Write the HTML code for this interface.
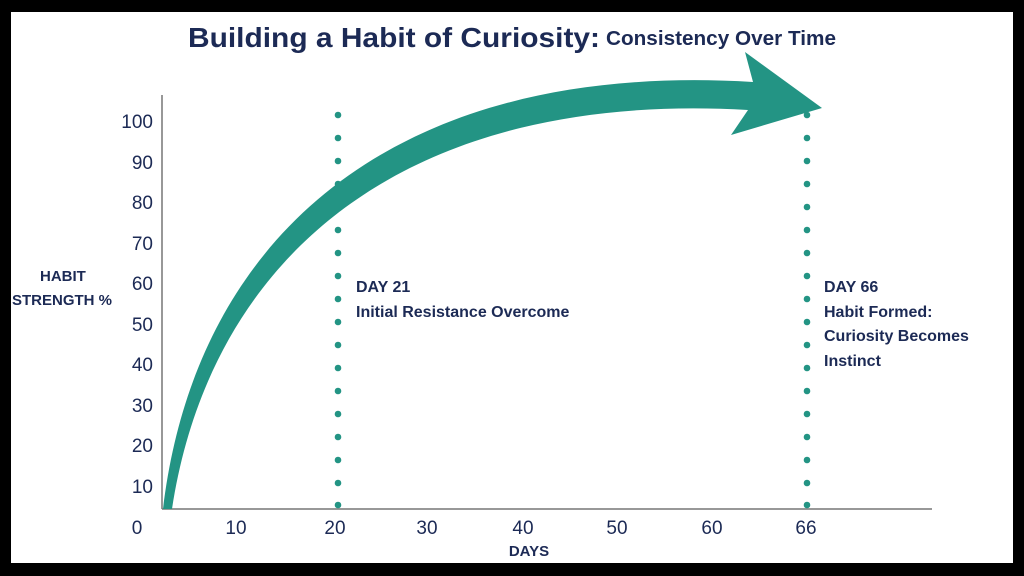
<!DOCTYPE html>
<html><head><style>
html,body{margin:0;padding:0;background:#000;}
svg{display:block;}
text{font-family:"Liberation Sans",sans-serif;fill:#1c2a55;}
</style></head><body>
<svg width="1024" height="576" viewBox="0 0 1024 576">
<rect x="0" y="0" width="1024" height="576" fill="#000"/>
<rect x="11" y="12" width="1002" height="551" fill="#fff"/>
<text x="188" y="47" font-size="28" font-weight="bold" textLength="412" lengthAdjust="spacingAndGlyphs">Building a Habit of Curiosity:</text>
<text x="606" y="45" font-size="20" font-weight="bold" textLength="230" lengthAdjust="spacingAndGlyphs">Consistency Over Time</text>
<line x1="162" y1="95" x2="162" y2="509" stroke="#777" stroke-width="1.5"/>
<line x1="162" y1="509" x2="932" y2="509" stroke="#777" stroke-width="1.5"/>
<g font-size="19" text-anchor="end">
<text x="153" y="128">100</text><text x="153" y="169">90</text><text x="153" y="209">80</text>
<text x="153" y="250">70</text><text x="153" y="290">60</text><text x="153" y="331">50</text>
<text x="153" y="371">40</text><text x="153" y="412">30</text><text x="153" y="452">20</text>
<text x="153" y="493">10</text>
</g>
<g font-size="19" text-anchor="middle">
<text x="137" y="534">0</text><text x="236" y="534">10</text><text x="335" y="534">20</text>
<text x="427" y="534">30</text><text x="523" y="534">40</text><text x="617" y="534">50</text>
<text x="712" y="534">60</text><text x="806" y="534">66</text>
</g>
<text x="529" y="556" font-size="15" font-weight="bold" text-anchor="middle">DAYS</text>
<text x="40" y="281" font-size="15" font-weight="bold">HABIT</text>
<text x="12" y="305" font-size="15" font-weight="bold">STRENGTH %</text>
<g fill="#239484">
<circle cx="338" cy="115" r="3.3"/><circle cx="338" cy="138" r="3.3"/><circle cx="338" cy="161" r="3.3"/><circle cx="338" cy="184" r="3.3"/><circle cx="338" cy="207" r="3.3"/><circle cx="338" cy="230" r="3.3"/><circle cx="338" cy="253" r="3.3"/><circle cx="338" cy="276" r="3.3"/><circle cx="338" cy="299" r="3.3"/><circle cx="338" cy="322" r="3.3"/><circle cx="338" cy="345" r="3.3"/><circle cx="338" cy="368" r="3.3"/><circle cx="338" cy="391" r="3.3"/><circle cx="338" cy="414" r="3.3"/><circle cx="338" cy="437" r="3.3"/><circle cx="338" cy="460" r="3.3"/><circle cx="338" cy="483" r="3.3"/><circle cx="338" cy="505" r="3.3"/>
<circle cx="807" cy="115" r="3.3"/><circle cx="807" cy="138" r="3.3"/><circle cx="807" cy="161" r="3.3"/><circle cx="807" cy="184" r="3.3"/><circle cx="807" cy="207" r="3.3"/><circle cx="807" cy="230" r="3.3"/><circle cx="807" cy="253" r="3.3"/><circle cx="807" cy="276" r="3.3"/><circle cx="807" cy="299" r="3.3"/><circle cx="807" cy="322" r="3.3"/><circle cx="807" cy="345" r="3.3"/><circle cx="807" cy="368" r="3.3"/><circle cx="807" cy="391" r="3.3"/><circle cx="807" cy="414" r="3.3"/><circle cx="807" cy="437" r="3.3"/><circle cx="807" cy="460" r="3.3"/><circle cx="807" cy="483" r="3.3"/><circle cx="807" cy="505" r="3.3"/>
</g>
<path d="M163,509 C195,240 390,60 753,82 L745,52 L822,108 L731,135 L748,110 C400,90 210,260 172,509 Z" fill="#239484"/>
<g font-size="16" font-weight="bold">
<text x="356" y="292">DAY 21</text>
<text x="356" y="317">Initial Resistance Overcome</text>
<text x="824" y="292">DAY 66</text>
<text x="824" y="317">Habit Formed:</text>
<text x="824" y="341">Curiosity Becomes</text>
<text x="824" y="366">Instinct</text>
</g>
</svg>
</body></html>
